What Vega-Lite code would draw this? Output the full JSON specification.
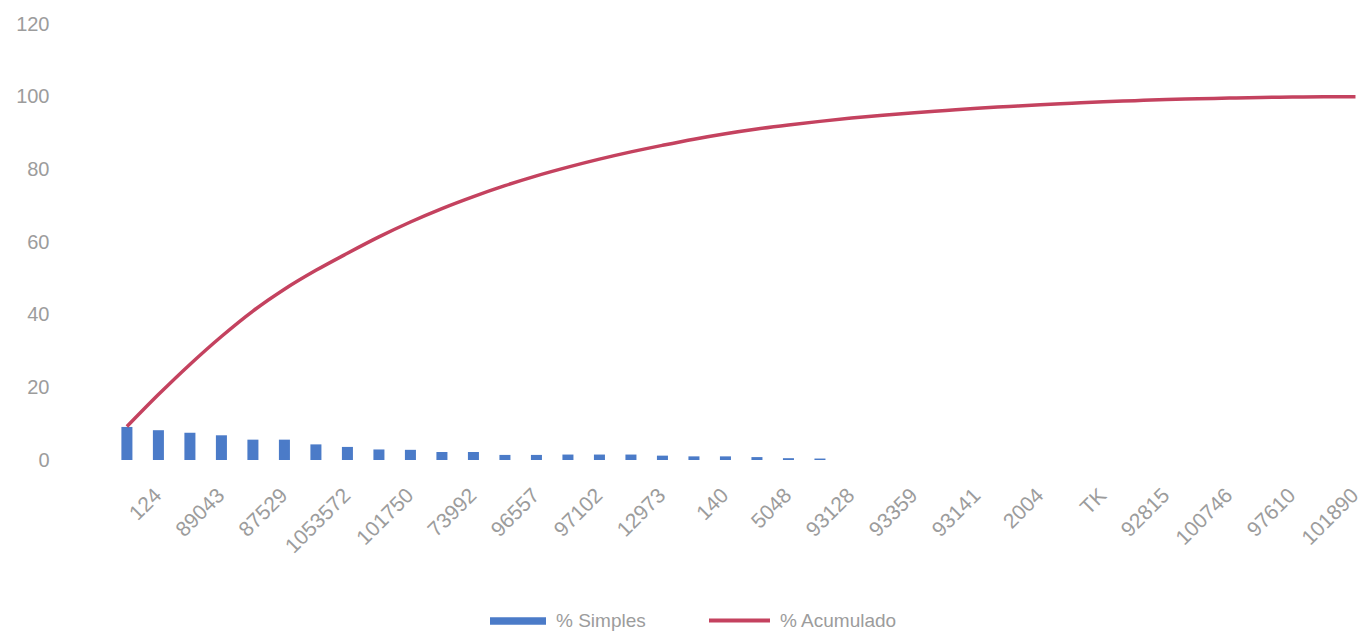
{
  "$schema": "https://vega.github.io/schema/vega-lite/v6.json",
  "width": 1250,
  "height": 436,
  "autosize": {"type": "none"},
  "padding": {"left": 111, "top": 24, "right": 0, "bottom": 174},
  "background": "white",
  "config": {"view": {"stroke": null}, "font": "Liberation Sans"},
  "data": {"values": [
    {"codigo": "s/e 1", "simples": 9.1, "acumulado": 9.2},
    {"codigo": "124", "simples": 8.2, "acumulado": 18.0},
    {"codigo": "s/e 2", "simples": 7.5, "acumulado": 26.3},
    {"codigo": "89043", "simples": 6.8, "acumulado": 34.0},
    {"codigo": "s/e 3", "simples": 5.6, "acumulado": 41.0},
    {"codigo": "87529", "simples": 5.6, "acumulado": 47.0},
    {"codigo": "s/e 4", "simples": 4.3, "acumulado": 52.2},
    {"codigo": "1053572", "simples": 3.6, "acumulado": 56.9},
    {"codigo": "s/e 5", "simples": 2.9, "acumulado": 61.4},
    {"codigo": "101750", "simples": 2.8, "acumulado": 65.5},
    {"codigo": "s/e 6", "simples": 2.2, "acumulado": 69.2},
    {"codigo": "73992", "simples": 2.2, "acumulado": 72.5},
    {"codigo": "s/e 7", "simples": 1.4, "acumulado": 75.5},
    {"codigo": "96557", "simples": 1.4, "acumulado": 78.2},
    {"codigo": "s/e 8", "simples": 1.5, "acumulado": 80.6},
    {"codigo": "97102", "simples": 1.5, "acumulado": 82.8},
    {"codigo": "s/e 9", "simples": 1.5, "acumulado": 84.8},
    {"codigo": "12973", "simples": 1.2, "acumulado": 86.6},
    {"codigo": "s/e 10", "simples": 1.0, "acumulado": 88.3},
    {"codigo": "140", "simples": 1.0, "acumulado": 89.8},
    {"codigo": "s/e 11", "simples": 0.8, "acumulado": 91.1},
    {"codigo": "5048", "simples": 0.5, "acumulado": 92.2},
    {"codigo": "s/e 12", "simples": 0.4, "acumulado": 93.2},
    {"codigo": "93128", "simples": 0, "acumulado": 94.1},
    {"codigo": "s/e 13", "simples": 0, "acumulado": 94.9},
    {"codigo": "93359", "simples": 0, "acumulado": 95.6},
    {"codigo": "s/e 14", "simples": 0, "acumulado": 96.2},
    {"codigo": "93141", "simples": 0, "acumulado": 96.8},
    {"codigo": "s/e 15", "simples": 0, "acumulado": 97.3},
    {"codigo": "2004", "simples": 0, "acumulado": 97.8},
    {"codigo": "s/e 16", "simples": 0, "acumulado": 98.2},
    {"codigo": "TK", "simples": 0, "acumulado": 98.6},
    {"codigo": "s/e 17", "simples": 0, "acumulado": 98.9},
    {"codigo": "92815", "simples": 0, "acumulado": 99.2},
    {"codigo": "s/e 18", "simples": 0, "acumulado": 99.4},
    {"codigo": "100746", "simples": 0, "acumulado": 99.6},
    {"codigo": "s/e 19", "simples": 0, "acumulado": 99.8},
    {"codigo": "97610", "simples": 0, "acumulado": 99.9},
    {"codigo": "s/e 20", "simples": 0, "acumulado": 100},
    {"codigo": "101890", "simples": 0, "acumulado": 100}
  ]},
  "encoding": {
    "x": {
      "field": "codigo",
      "type": "nominal",
      "sort": null,
      "scale": {"paddingInner": 0.65, "paddingOuter": 0.165, "align": 1, "round": false},
      "axis": {
        "title": null,
        "values": ["124", "89043", "87529", "1053572", "101750", "73992", "96557", "97102", "12973", "140", "5048", "93128", "93359", "93141", "2004", "TK", "92815", "100746", "97610", "101890"],
        "labelAngle": -45,
        "labelAlign": "right",
        "labelBaseline": "middle",
        "labelFontSize": 21,
        "labelColor": "#9c9c9c",
        "labelPadding": 32,
        "labelDx": -8,
        "labelOverlap": false,
        "labelLimit": 0,
        "labelBound": false,
        "ticks": false,
        "domain": false,
        "grid": false
      }
    }
  },
  "layer": [
    {
      "mark": {"type": "bar"},
      "encoding": {
        "y": {
          "field": "simples",
          "type": "quantitative",
          "scale": {"domain": [0, 120], "nice": false, "zero": true},
          "axis": {
            "title": null,
            "values": [0, 20, 40, 60, 80, 100, 120],
            "labelFontSize": 20,
            "labelColor": "#9c9c9c",
            "labelPadding": 62,
            "ticks": false,
            "domain": false,
            "grid": false
          }
        },
        "fill": {
          "datum": "% Simples",
          "type": "nominal",
          "scale": {"domain": ["% Simples"], "range": ["#4b7bc8"]},
          "legend": {
            "title": null,
            "orient": "none",
            "legendX": 379,
            "legendY": 569,
            "symbolType": "M-1,-0.13H1V0.13H-1Z",
            "symbolSize": 3136,
            "symbolStrokeWidth": 0,
            "labelFontSize": 19,
            "labelColor": "#9c9c9c",
            "labelOffset": 10
          }
        }
      }
    },
    {
      "mark": {"type": "line", "interpolate": "monotone", "strokeWidth": 3.5},
      "encoding": {
        "y": {"field": "acumulado", "type": "quantitative"},
        "stroke": {
          "datum": "% Acumulado",
          "type": "nominal",
          "scale": {"domain": ["% Acumulado"], "range": ["#c4425f"]},
          "legend": {
            "title": null,
            "orient": "none",
            "legendX": 596,
            "legendY": 564,
            "symbolType": "stroke",
            "symbolSize": 3721,
            "symbolStrokeWidth": 4,
            "labelFontSize": 19,
            "labelColor": "#9c9c9c",
            "labelOffset": 8
          }
        }
      }
    }
  ]
}
